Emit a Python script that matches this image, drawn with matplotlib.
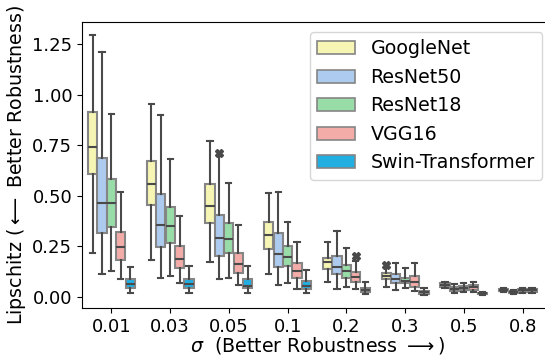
import numpy as np
import matplotlib
matplotlib.use("Agg")
import matplotlib.pyplot as plt
from matplotlib.patches import Patch

# sigma levels on the x axis
sigmas = ["0.01", "0.03", "0.05", "0.1", "0.2", "0.3", "0.5", "0.8"]
models = ["GoogleNet", "ResNet50", "ResNet18", "VGG16", "Swin-Transformer"]

# Box statistics per sigma: (whisker low, Q1, median, Q3, whisker high)
googlenet = [
    (0.215, 0.608, 0.743, 0.914, 1.296),
    (0.182, 0.454, 0.557, 0.674, 0.954),
    (0.170, 0.367, 0.449, 0.557, 0.771),
    (0.114, 0.236, 0.306, 0.370, 0.515),
    (0.074, 0.136, 0.170, 0.190, 0.272),
    (0.050, 0.088, 0.103, 0.116, 0.148),
    (0.042, 0.050, 0.058, 0.066, 0.074),
    (0.025, 0.030, 0.035, 0.040, 0.045),
]
resnet50 = [
    (0.111, 0.314, 0.462, 0.685, 1.214),
    (0.091, 0.245, 0.355, 0.509, 0.900),
    (0.086, 0.203, 0.289, 0.405, 0.700),
    (0.058, 0.146, 0.213, 0.314, 0.520),
    (0.038, 0.112, 0.149, 0.202, 0.325),
    (0.033, 0.066, 0.088, 0.111, 0.168),
    (0.017, 0.028, 0.037, 0.050, 0.061),
    (0.013, 0.018, 0.023, 0.028, 0.033),
]
resnet18 = [
    (0.129, 0.347, 0.462, 0.581, 0.905),
    (0.102, 0.268, 0.350, 0.443, 0.681),
    (0.094, 0.215, 0.287, 0.367, 0.562),
    (0.070, 0.153, 0.197, 0.253, 0.371),
    (0.050, 0.094, 0.127, 0.157, 0.240),
    (0.042, 0.066, 0.079, 0.094, 0.141),
    (0.025, 0.033, 0.045, 0.054, 0.069),
    (0.020, 0.025, 0.032, 0.038, 0.045),
]
vgg16 = [
    (0.086, 0.182, 0.245, 0.322, 0.517),
    (0.066, 0.141, 0.187, 0.253, 0.401),
    (0.056, 0.119, 0.162, 0.218, 0.354),
    (0.038, 0.094, 0.129, 0.168, 0.269),
    (0.037, 0.071, 0.096, 0.121, 0.177),
    (0.030, 0.050, 0.074, 0.104, 0.165),
    (0.022, 0.033, 0.047, 0.058, 0.074),
    (0.020, 0.025, 0.032, 0.037, 0.042),
]
swin = [
    (0.017, 0.042, 0.061, 0.086, 0.149),
    (0.017, 0.042, 0.061, 0.089, 0.152),
    (0.017, 0.042, 0.055, 0.086, 0.154),
    (0.020, 0.037, 0.053, 0.078, 0.132),
    (0.013, 0.025, 0.033, 0.045, 0.074),
    (0.008, 0.013, 0.022, 0.030, 0.042),
    (0.007, 0.012, 0.017, 0.020, 0.025),
    None,
]
# Outlying points: (model, sigma index, value)
outliers = [("ResNet50", 2, 0.714), ("VGG16", 4, 0.202), ("GoogleNet", 5, 0.157)]

stats_by_model = {"GoogleNet": googlenet, "ResNet50": resnet50, "ResNet18": resnet18,
                  "VGG16": vgg16, "Swin-Transformer": swin}
colors = ["#f6f5b4", "#adcbee", "#98dca8", "#f4aca9", "#21aee1"]

dark = "#4a4a4a"
box_edge = "#858585"

fig = plt.figure(figsize=(5.45, 3.56), dpi=100)
ax = fig.add_axes([82 / 545, 1 - 308.3 / 356, (552 - 82) / 545, (308.3 - 22.3) / 356])

width = 0.16
for j, (model, color) in enumerate(zip(models, colors)):
    stats, positions = [], []
    for i, s in enumerate(stats_by_model[model]):
        if s is None:
            continue
        lo, q1, med, q3, hi = s
        fl = [v for (m, k, v) in outliers if m == model and k == i]
        stats.append(dict(whislo=lo, q1=q1, med=med, q3=q3, whishi=hi, fliers=fl))
        positions.append(i + (j - 2) * width)
    ax.bxp(stats, positions=positions, widths=width * 0.98, patch_artist=True,
           showfliers=True, manage_ticks=False, capwidths=width * 0.55,
           boxprops=dict(facecolor=color, edgecolor=box_edge, linewidth=1.5),
           whiskerprops=dict(color=dark, linewidth=1.5),
           capprops=dict(color=dark, linewidth=1.5),
           medianprops=dict(color=dark, linewidth=1.5),
           flierprops=dict(marker="X", markersize=6, markerfacecolor=dark,
                           markeredgecolor=dark, linestyle="none"))

ax.set_xlim(-0.5, len(sigmas) - 0.5)
ax.set_ylim(-0.0575, 1.359)
ax.set_xticks(range(len(sigmas)))
ax.set_xticklabels(sigmas)
ax.set_yticks([0, 0.25, 0.5, 0.75, 1.0, 1.25])
ax.set_yticklabels(["0.00", "0.25", "0.50", "0.75", "1.00", "1.25"])
ax.tick_params(labelsize=13)

ax.set_xlabel(r"$\sigma$  (Better Robustness $\longrightarrow$)", fontsize=13.7, labelpad=-1)
ax.set_ylabel(r"Lipschitz ($\longleftarrow$ Better Robustness)", fontsize=13.7, labelpad=3)

handles = [Patch(facecolor=c, edgecolor=box_edge, linewidth=1.2, label=m)
           for m, c in zip(models, colors)]
ax.legend(handles=handles, loc="upper right", fontsize=13.7)

fig.savefig("out.png", dpi=100)
